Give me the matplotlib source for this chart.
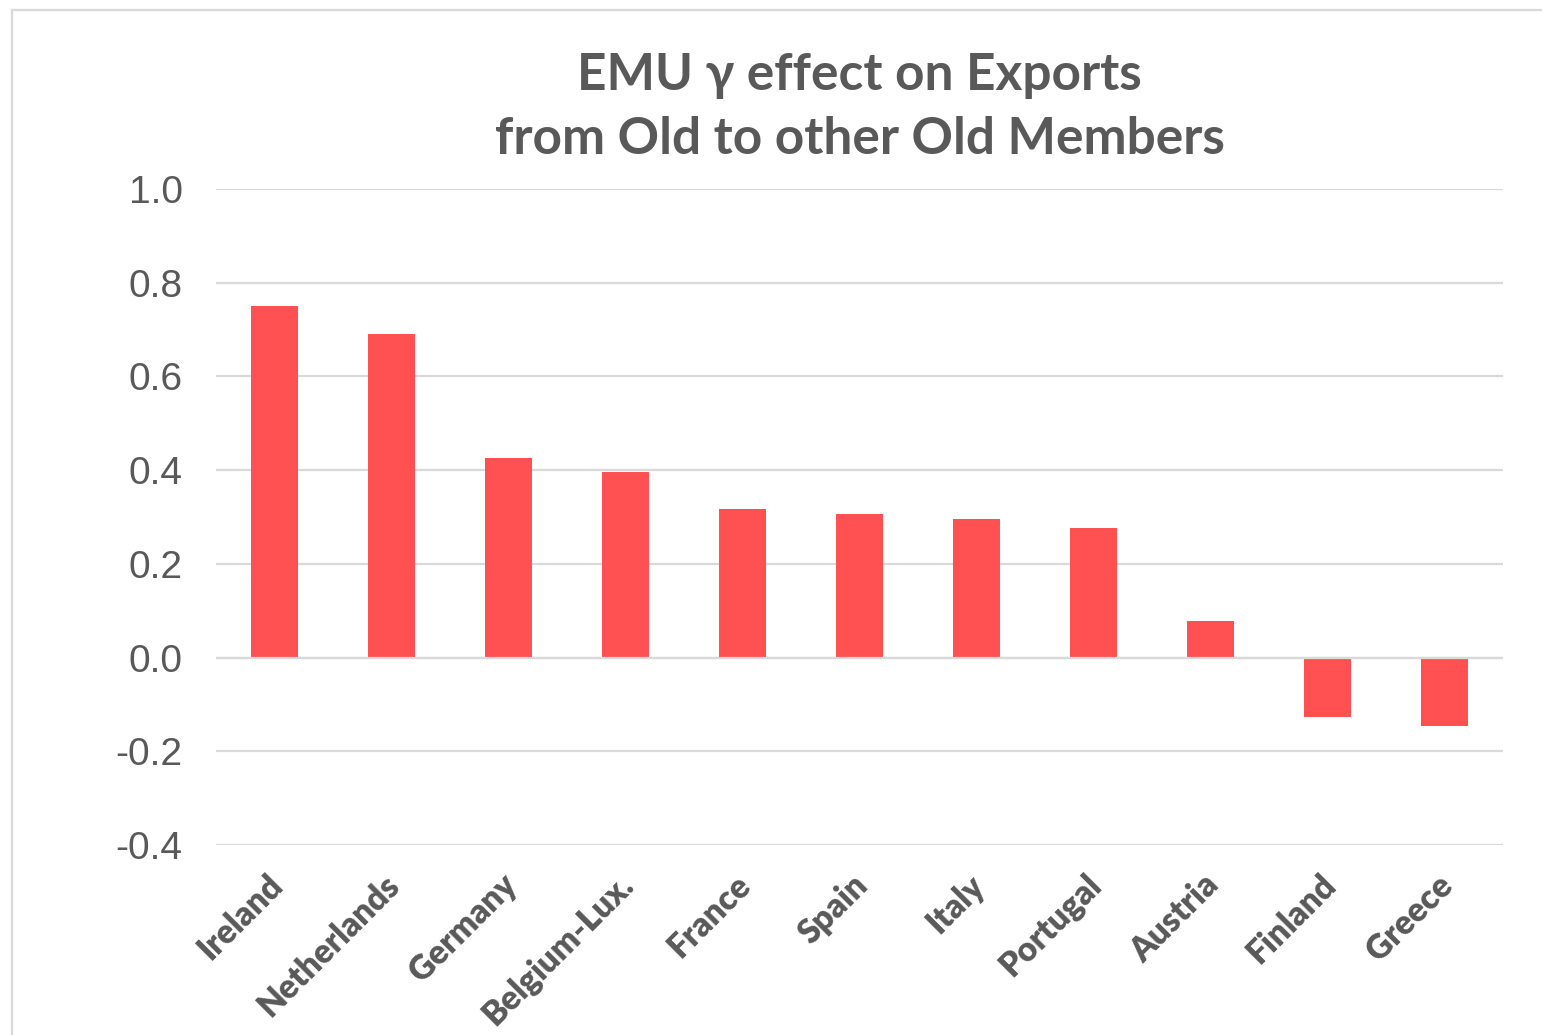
import matplotlib
matplotlib.use("Agg")
import matplotlib.pyplot as plt
from matplotlib.lines import Line2D
from matplotlib.transforms import ScaledTranslation

countries = ["Ireland", "Netherlands", "Germany", "Belgium-Lux.", "France", "Spain",
             "Italy", "Portugal", "Austria", "Finland", "Greece"]
gamma_effect = [0.75, 0.69, 0.425, 0.395, 0.318, 0.307, 0.296, 0.277, 0.078, -0.126, -0.146]
y_ticks = [-0.4, -0.2, 0.0, 0.2, 0.4, 0.6, 0.8, 1.0]
title_text = "EMU \u03b3 effect on Exports\nfrom Old to other Old Members"

TEXT = "#595959"
GRID = "#d9d9d9"
BAR = "#FF5151"

fig = plt.figure(figsize=(15.42, 10.35), dpi=100)
W, H = 1542, 1035
ax = fig.add_axes([216 / W, 1 - 845 / H, (1503 - 216) / W, (845 - 189) / H])

x = list(range(len(countries)))
ax.bar(x, gamma_effect, width=0.4, color=BAR, zorder=2)
ax.axhline(0, color=GRID, lw=1.6, zorder=3)

ax.set_xlim(-0.5, len(countries) - 0.5)
ax.set_ylim(-0.4, 1.0)
ax.set_yticks(y_ticks)
ax.set_yticklabels([f"{v:.1f}" for v in y_ticks], family="Liberation Sans",
                   fontsize=28, color=TEXT)
ax.tick_params(axis="y", length=0, pad=24)
ax.yaxis.grid(True, color=GRID, lw=1.6, zorder=0)
ax.set_axisbelow(True)
for s in ax.spines.values():
    s.set_visible(False)

ax.set_xticks(x)
ax.set_xticklabels(countries, rotation=45, ha="right", va="top",
                   rotation_mode="anchor", family=["Lato", "DejaVu Sans"],
                   fontweight="heavy", fontsize=24, color=TEXT)
ax.tick_params(axis="x", length=0, pad=17)
shift = ScaledTranslation(-8 / 100, 0, fig.dpi_scale_trans)
for lbl in ax.get_xticklabels():
    lbl.set_transform(lbl.get_transform() + shift)

fig.text((216 + 1503) / 2 / W, 1 - 52 / H, title_text, ha="center", va="top",
         family=["Lato", "DejaVu Sans"], fontweight="bold", fontsize=37,
         color=TEXT, linespacing=1.44)

# chart frame
fig.add_artist(Line2D([12 / W, 12 / W], [0, 1 - 10 / H], transform=fig.transFigure,
                      color=GRID, lw=1.6))
fig.add_artist(Line2D([12 / W, 1], [1 - 10 / H, 1 - 10 / H], transform=fig.transFigure,
                      color=GRID, lw=1.6))

fig.savefig("out.png", dpi=100, facecolor="white")
